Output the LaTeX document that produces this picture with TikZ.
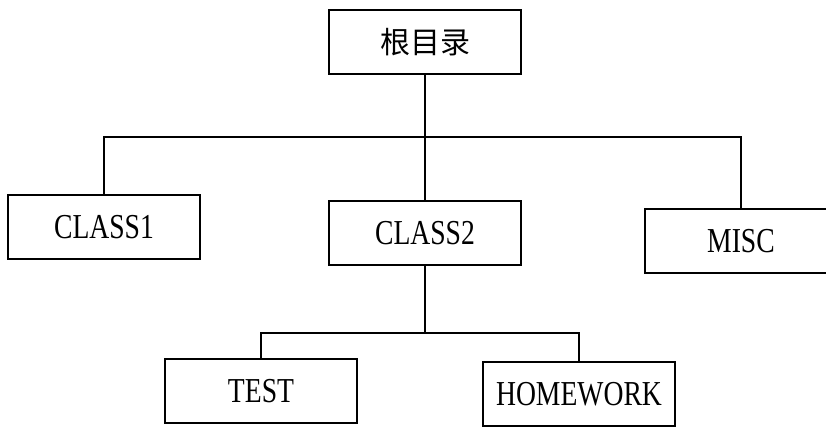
\documentclass[tikz,border=0pt]{standalone}
\usepackage{fontspec}
\setmainfont{Liberation Serif}[FakeStretch=0.79]
\newfontfamily\cjk{Noto Sans CJK SC}
\usetikzlibrary{calc}
\tikzstyle{box} = [rectangle, minimum width = 192pt, minimum height=64pt, inner sep=2pt, text centered, draw = black, line width=1.2pt, font=\fontsize{35}{38}\selectfont]
\tikzstyle{line} = [line width=1.2pt]

\begin{document}
\begin{tikzpicture}[x=1pt, y=-1pt]
	\useasboundingbox (0,0) rectangle (826,429);
	\node (Root) [box] at (425,42) {\cjk\fontsize{30}{32}\selectfont 根目录};
	\node (C1) [box] at (104,227) {CLASS1};
	\node (C2) [box] at (425,233) {CLASS2};
	\node (MISC) [box] at (741,241) {MISC};
	\node (TEST) [box] at (261,391) {TEST};
	\node (HW) [box] at (579,394) {HOMEWORK};
	\coordinate (bus) at (425,137);
	\coordinate (sub) at (425,333);
	%\draw [line](Root) -- (bus);
	\draw [line](Root.south) -- (C2.north);
	\draw [line](C1.north) |- (bus) -| (MISC.north);
	\draw [line](C2.south) -- (sub);
	\draw [line](TEST.north) |- (sub) -| (HW.north);
\end{tikzpicture}
\end{document}
